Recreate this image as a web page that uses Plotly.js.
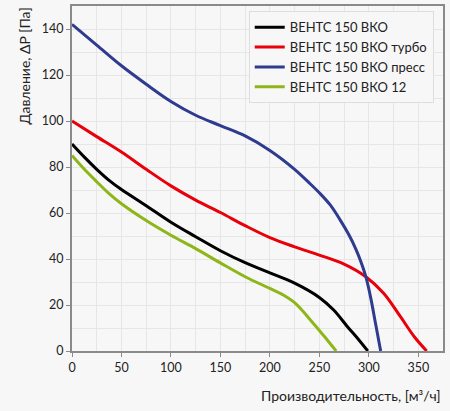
<!DOCTYPE html>
<html>
<head>
<meta charset="utf-8">
<script src="https://cdn.plot.ly/plotly-3.0.1.min.js"></script>
<style>
html,body{margin:0;padding:0;background:#f7f7f7;}
#chart{width:450px;height:411px;}
</style>
</head>
<body>
<div id="chart"></div>
<script>
var seriesNames = ["ВЕНТС 150 ВКО", "ВЕНТС 150 ВКО турбо", "ВЕНТС 150 ВКО пресс", "ВЕНТС 150 ВКО 12"];
var seriesColors = ["#000000", "#e8000b", "#2e3b8f", "#8fb619"];

var qBase = [0, 12.5, 25, 37.5, 50, 75, 100, 125, 150, 175, 200, 225, 250, 264.5, 278, 290, 299];
var pBase = [90, 84.3, 79, 74.2, 70.2, 63.2, 56, 49.7, 43.6, 38.4, 34, 29.5, 23.3, 17.8, 10.8, 4.8, 0];

var qTurbo = [0, 25, 50, 75, 100, 125, 150, 175, 200, 225, 250, 275, 297, 315, 332, 346, 358.5];
var pTurbo = [100, 93.2, 86.5, 79, 71.8, 65.6, 60.2, 54.5, 49.3, 45.3, 41.7, 37.8, 32.3, 25.1, 14.9, 6.2, 0];

var qPress = [0, 25, 50, 75, 100, 125, 150, 175, 200, 225, 241, 250, 261, 271, 280, 287, 292, 297, 302, 307, 312];
var pPress = [142, 133, 124, 116, 108.5, 102.5, 98, 93.5, 87.2, 79, 72.6, 68.8, 63.5, 57, 50.4, 44.2, 38.8, 32.3, 23, 11.5, 0];

var q12 = [0, 12.5, 25, 37.5, 50, 75, 100, 125, 150, 175, 200, 213, 225, 244, 258, 267];
var p12 = [85, 79, 73.6, 68.4, 64, 56.7, 50.3, 44.5, 38.3, 32.3, 27.2, 24.5, 21, 12, 4.8, 0];

var xTitle = "Производительность, [м³/ч]";
var yTitle = "Давление, ΔP [Па]";

var xs = [qBase, qTurbo, qPress, q12];
var ys = [pBase, pTurbo, pPress, p12];

var traces = xs.map(function(x, i){
  return {
    x: x, y: ys[i], name: seriesNames[i], type: "scatter", mode: "lines",
    line: {color: seriesColors[i], width: 3, shape: "spline", smoothing: 1}
  };
});

var fnt = {family: "Lato, 'Open Sans', sans-serif", size: 12, color: "#222"};

var layout = {
  width: 450, height: 411,
  margin: {l: 72, r: 7, t: 6, b: 60},
  paper_bgcolor: "#f7f7f7",
  plot_bgcolor: "#f7f7f7",
  font: fnt,
  showlegend: true,
  legend: {
    x: 0.975, xanchor: "right", y: 0.985, yanchor: "top",
    bgcolor: "#f7f7f7", bordercolor: "#dddddd", borderwidth: 1,
    font: {family: fnt.family, size: 13, color: "#222"},
    tracegroupgap: 0
  },
  xaxis: {
    range: [0, 375], dtick: 50, tick0: 0,
    showgrid: true, gridcolor: "#e6e6e6", gridwidth: 1,
    minor: {dtick: 25, showgrid: true, gridcolor: "#e6e6e6", gridwidth: 1},
    showline: true, linecolor: "#8a8a8a", linewidth: 2, mirror: true,
    ticks: "outside", ticklen: 4, tickcolor: "#8a8a8a",
    zeroline: false, tickfont: {family: fnt.family, size: 12.5, color: "#222"}, fixedrange: true
  },
  yaxis: {
    range: [0, 150], dtick: 20, tick0: 0,
    showgrid: true, gridcolor: "#e6e6e6", gridwidth: 1,
    minor: {dtick: 10, showgrid: true, gridcolor: "#e6e6e6", gridwidth: 1},
    showline: true, linecolor: "#8a8a8a", linewidth: 2, mirror: true,
    ticks: "outside", ticklen: 4, tickcolor: "#8a8a8a",
    zeroline: false, tickfont: {family: fnt.family, size: 12.5, color: "#222"}, fixedrange: true
  },
  annotations: [
    {text: xTitle, xref: "paper", yref: "paper", x: 1.0, y: 0, xanchor: "right", yanchor: "top",
     yshift: -34, showarrow: false, font: {family: fnt.family, size: 14, color: "#222"}},
    {text: yTitle, xref: "paper", yref: "paper", x: 0, y: 1, xanchor: "center", yanchor: "top",
     xshift: -48, textangle: -90, showarrow: false, font: {family: fnt.family, size: 14, color: "#222"}}
  ]
};

Plotly.newPlot("chart", traces, layout, {displayModeBar: false, staticPlot: true});
</script>
</body>
</html>
